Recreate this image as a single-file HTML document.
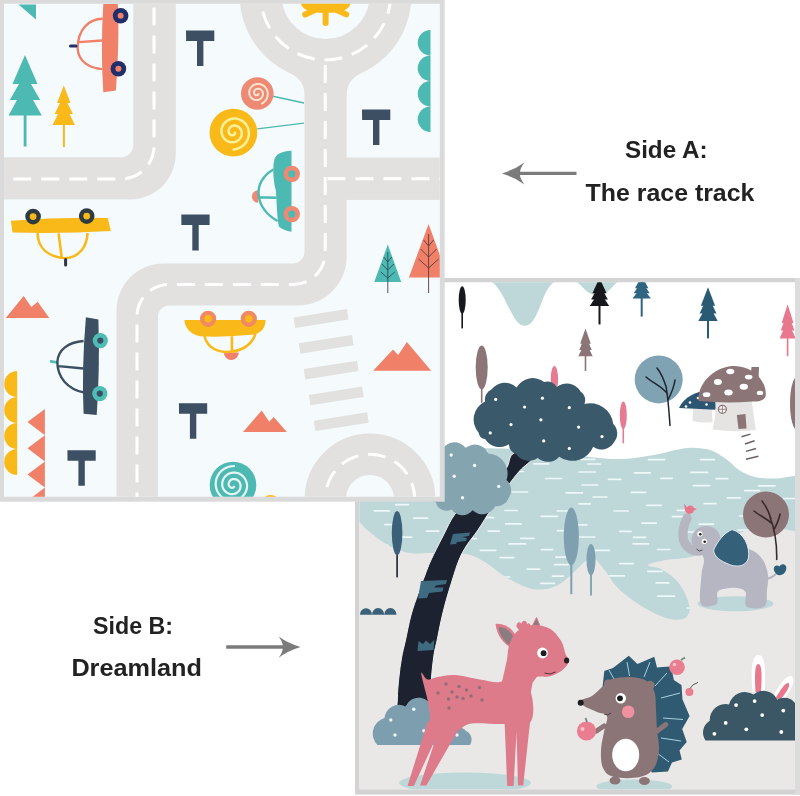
<!DOCTYPE html>
<html><head><meta charset="utf-8"><title>Play mat</title>
<style>html,body{margin:0;padding:0;background:#fff;}svg{display:block;filter:blur(0.35px);}body{font-family:"Liberation Sans",sans-serif;}</style></head>
<body>
<svg width="800" height="796" viewBox="0 0 800 796">
<rect x="0" y="0" width="800" height="796" fill="#ffffff"/>
<g id="matB">
<rect x="355" y="278" width="445" height="516.6" fill="#d3d3d4"/>
<rect x="795" y="278" width="5" height="516.6" fill="#dcdcdc"/>
<clipPath id="clipB"><rect x="359.5" y="282.2" width="435.5" height="507"/></clipPath>
<g clip-path="url(#clipB)">
<rect x="355" y="278" width="445" height="520" fill="#ffffff"/>
<rect x="355" y="500" width="445" height="300" fill="#e9e8e6"/>
<path d="M340.0,436.0 C350.8,429.7 382.5,440.3 400.0,442.0 C417.5,443.7 431.7,445.0 445.0,446.0 C458.3,447.0 468.8,447.5 480.0,448.0 C491.2,448.5 498.7,448.3 512.0,449.0 C525.3,449.7 547.0,450.7 560.0,452.0 C573.0,453.3 579.5,455.8 590.0,457.0 C600.5,458.2 612.3,459.3 623.0,459.0 C633.7,458.7 643.3,456.8 654.0,455.0 C664.7,453.2 677.7,448.8 687.0,448.0 C696.3,447.2 703.5,448.2 710.0,450.0 C716.5,451.8 721.2,455.7 726.0,459.0 C730.8,462.3 734.2,467.0 739.0,470.0 C743.8,473.0 749.0,475.6 755.0,477.0 C761.0,478.4 765.0,478.2 775.0,478.5 C785.0,478.8 808.3,470.2 815.0,478.5 C821.7,486.8 821.7,519.7 815.0,528.0 C808.3,536.3 786.7,528.0 775.0,528.5 C763.3,529.0 754.2,528.2 745.0,531.0 C735.8,533.8 728.7,540.8 720.0,545.0 C711.3,549.2 702.0,554.0 693.0,556.5 C684.0,559.0 673.5,558.6 666.0,560.0 C658.5,561.4 648.8,563.5 648.0,565.0 C647.2,566.5 656.3,566.5 661.0,569.0 C665.7,571.5 671.8,575.6 676.0,580.0 C680.2,584.4 683.8,590.4 686.0,595.5 C688.2,600.6 690.0,606.6 689.5,610.5 C689.0,614.4 686.9,617.8 683.0,619.0 C679.1,620.2 673.1,620.2 666.0,618.0 C658.9,615.8 648.5,610.5 640.5,605.5 C632.5,600.5 623.9,593.8 618.0,588.0 C612.1,582.2 609.0,575.4 605.0,570.5 C601.0,565.6 597.3,560.0 594.0,558.5 C590.7,557.0 588.5,559.1 585.0,561.5 C581.5,563.9 577.6,569.0 573.0,573.0 C568.4,577.0 563.0,582.8 557.5,585.5 C552.0,588.2 545.2,589.2 540.0,589.5 C534.8,589.8 532.0,589.2 526.0,587.0 C520.0,584.8 510.8,580.2 504.0,576.0 C497.2,571.8 491.4,565.7 485.0,562.0 C478.6,558.3 474.7,555.5 465.5,554.0 C456.3,552.5 437.9,553.0 430.0,552.9 C422.1,552.8 422.1,553.6 418.0,553.5 C413.9,553.4 409.6,553.2 405.4,552.2 C401.2,551.2 397.0,549.8 392.8,547.8 C388.6,545.8 384.5,543.2 380.3,540.3 C376.1,537.4 371.2,533.4 367.7,530.3 C364.2,527.2 362.4,525.7 359.5,521.5 C356.6,517.3 354.1,511.9 350.0,505.0 C345.9,498.1 336.7,491.5 335.0,480.0 C333.3,468.5 329.2,442.3 340.0,436.0Z" fill="#bed7d9"/>
<clipPath id="clipLake"><path d="M340.0,436.0 C350.8,429.7 382.5,440.3 400.0,442.0 C417.5,443.7 431.7,445.0 445.0,446.0 C458.3,447.0 468.8,447.5 480.0,448.0 C491.2,448.5 498.7,448.3 512.0,449.0 C525.3,449.7 547.0,450.7 560.0,452.0 C573.0,453.3 579.5,455.8 590.0,457.0 C600.5,458.2 612.3,459.3 623.0,459.0 C633.7,458.7 643.3,456.8 654.0,455.0 C664.7,453.2 677.7,448.8 687.0,448.0 C696.3,447.2 703.5,448.2 710.0,450.0 C716.5,451.8 721.2,455.7 726.0,459.0 C730.8,462.3 734.2,467.0 739.0,470.0 C743.8,473.0 749.0,475.6 755.0,477.0 C761.0,478.4 765.0,478.2 775.0,478.5 C785.0,478.8 808.3,470.2 815.0,478.5 C821.7,486.8 821.7,519.7 815.0,528.0 C808.3,536.3 786.7,528.0 775.0,528.5 C763.3,529.0 754.2,528.2 745.0,531.0 C735.8,533.8 728.7,540.8 720.0,545.0 C711.3,549.2 702.0,554.0 693.0,556.5 C684.0,559.0 673.5,558.6 666.0,560.0 C658.5,561.4 648.8,563.5 648.0,565.0 C647.2,566.5 656.3,566.5 661.0,569.0 C665.7,571.5 671.8,575.6 676.0,580.0 C680.2,584.4 683.8,590.4 686.0,595.5 C688.2,600.6 690.0,606.6 689.5,610.5 C689.0,614.4 686.9,617.8 683.0,619.0 C679.1,620.2 673.1,620.2 666.0,618.0 C658.9,615.8 648.5,610.5 640.5,605.5 C632.5,600.5 623.9,593.8 618.0,588.0 C612.1,582.2 609.0,575.4 605.0,570.5 C601.0,565.6 597.3,560.0 594.0,558.5 C590.7,557.0 588.5,559.1 585.0,561.5 C581.5,563.9 577.6,569.0 573.0,573.0 C568.4,577.0 563.0,582.8 557.5,585.5 C552.0,588.2 545.2,589.2 540.0,589.5 C534.8,589.8 532.0,589.2 526.0,587.0 C520.0,584.8 510.8,580.2 504.0,576.0 C497.2,571.8 491.4,565.7 485.0,562.0 C478.6,558.3 474.7,555.5 465.5,554.0 C456.3,552.5 437.9,553.0 430.0,552.9 C422.1,552.8 422.1,553.6 418.0,553.5 C413.9,553.4 409.6,553.2 405.4,552.2 C401.2,551.2 397.0,549.8 392.8,547.8 C388.6,545.8 384.5,543.2 380.3,540.3 C376.1,537.4 371.2,533.4 367.7,530.3 C364.2,527.2 362.4,525.7 359.5,521.5 C356.6,517.3 354.1,511.9 350.0,505.0 C345.9,498.1 336.7,491.5 335.0,480.0 C333.3,468.5 329.2,442.3 340.0,436.0Z"/></clipPath>
<g clip-path="url(#clipLake)" stroke="#eef8f9" stroke-width="1.7" stroke-linecap="round">
<path d="M349.5,453.0h13.8M410.7,451.2h14.1M474.0,451.0h12.8M592.1,453.2h16.8M655.9,451.2h11.1M717.4,451.3h12.5M769.9,451.9h16.1M387.0,458.5h12.7M524.1,458.2h12.4M581.3,459.3h13.4M648.5,459.7h16.1M700.5,459.6h13.8M770.2,457.6h14.8M357.9,465.8h15.5M412.0,463.7h11.4M478.3,464.8h13.7M533.8,463.8h14.9M587.9,464.0h12.6M770.6,465.5h14.9M396.1,472.5h13.0M453.5,470.9h14.5M509.8,471.5h13.7M579.1,472.0h16.2M634.4,472.8h15.9M690.9,472.4h16.6M373.2,477.3h16.8M429.5,477.8h15.9M492.2,477.6h15.3M545.5,478.5h16.1M608.5,479.4h12.2M660.8,478.3h11.4M716.0,478.6h11.8M412.9,484.2h11.2M582.2,485.0h15.4M693.3,485.6h16.4M758.6,485.8h16.5M449.5,492.6h14.4M512.8,492.0h14.7M566.2,492.9h16.3M631.3,492.3h14.5M744.8,490.6h14.6M363.0,498.0h16.5M419.6,497.2h15.1M475.2,498.7h15.0M593.1,497.0h13.6M727.4,497.9h12.9M781.9,498.5h16.1M395.8,504.7h12.7M451.6,505.1h14.0M579.0,503.8h11.2M646.7,505.3h14.4M704.2,503.7h11.8M764.4,505.6h12.4M374.3,510.8h14.9M505.1,510.5h12.1M557.3,511.0h12.1M614.2,511.0h14.1M677.3,510.3h15.8M745.6,511.6h15.3M800.0,510.8h16.5M413.8,518.1h13.8M477.5,517.6h15.9M541.1,516.3h16.4M672.4,516.6h16.5M739.8,516.0h13.6M384.9,524.6h11.4M451.3,523.5h15.7M505.8,523.9h15.3M572.9,524.9h14.0M642.0,523.2h14.2M699.2,524.2h14.1M766.4,523.4h13.3M426.5,531.1h12.2M488.2,531.1h11.2M557.6,530.7h15.8M619.7,531.4h11.4M681.4,532.0h16.5M738.3,530.0h13.6M396.8,537.2h14.7M465.4,538.6h11.1M520.9,538.4h12.9M579.3,537.0h15.4M633.5,537.3h12.2M695.1,537.6h13.5M756.6,537.2h14.8M375.5,545.2h12.4M509.1,543.9h16.5M633.0,543.8h15.4M689.7,545.2h13.5M755.9,544.2h15.1M480.3,550.3h15.5M541.3,549.6h11.4M595.2,550.4h14.1M657.5,549.5h12.2M793.3,549.3h16.7M382.3,557.2h13.6M445.1,557.6h16.1M500.3,557.7h13.4M555.9,557.2h11.1M752.0,557.4h14.0M422.0,564.8h13.4M554.6,564.7h13.4M619.6,563.6h13.8M671.8,564.3h14.7M792.0,564.4h14.4M401.0,570.7h15.6M470.6,570.5h15.4M527.3,569.2h12.2M586.0,569.6h16.4M647.9,571.4h14.4M717.8,571.0h11.5M780.6,569.1h16.6M367.7,576.9h11.4M436.7,576.7h14.6M495.3,577.0h14.4M552.4,576.1h11.1M608.8,575.8h15.5M733.3,577.8h16.7M412.7,583.0h16.6M477.7,584.1h15.9M540.6,583.3h13.7M596.3,583.0h11.7M656.2,582.9h12.6M718.7,583.6h14.2M445.3,588.6h12.6M509.6,589.2h14.8M575.1,588.3h16.9M696.3,588.4h13.6M759.6,589.0h11.4M358.5,595.3h13.9M414.3,596.2h16.0M467.6,596.4h14.7M533.5,595.4h12.5M600.1,596.0h16.9M657.9,596.2h16.5M717.6,594.7h16.3M771.0,595.8h13.9M397.8,601.0h15.0M451.2,602.2h15.2M508.3,601.4h15.4M566.9,602.2h14.4M703.9,602.4h12.8M761.6,602.7h16.4M368.7,607.6h13.3M424.2,608.6h14.2M491.2,607.1h15.6M559.1,606.7h14.1M620.9,609.0h14.9M687.3,608.0h15.7M740.9,608.4h16.4M794.4,607.0h15.5M404.2,613.9h15.6M463.3,615.0h15.0M524.2,614.4h15.2M592.7,614.7h15.0M796.3,613.9h15.3M381.2,620.7h16.9M440.0,619.4h13.5M550.3,619.2h14.9M616.3,619.1h13.8M731.4,619.4h12.3M787.7,620.4h12.3"/>
</g>
<path d="M487,280 C497,282 503,296 510,310 C516,322 520,325.8 525,325.8 C530,325.8 534,321 539,309 C545,294 548,283 559,280 Z" fill="#bed7d9"/>
<path d="M574,280 C582,284 586,295 597,295 C610,295 612,284 621,280 Z" fill="#bed7d9"/>
<ellipse cx="735.5" cy="603.7" rx="38" ry="7.5" fill="#bed7d9"/>
<rect x="461.4" y="311.7" width="1.6" height="16.7" fill="#17181d"/><ellipse cx="462.2" cy="300.0" rx="3.5" ry="13.7" fill="#17181d"/>
<rect x="480.9" y="387.3" width="1.6" height="15.5" fill="#8b7577"/><ellipse cx="481.7" cy="367.4" rx="6.0" ry="21.9" fill="#8b7577"/>
<ellipse cx="554.4" cy="379.0" rx="3.7" ry="13.0" fill="#e57c93"/>
<rect x="622.5" y="427.0" width="1.6" height="16.3" fill="#e57c93"/><ellipse cx="623.3" cy="415.2" rx="3.5" ry="13.8" fill="#e57c93"/>
<path d="M599.5,278.0 L606.6,293.3 L592.4,293.3 Z" fill="#17181d"/>
<path d="M599.5,284.5 L607.9,299.6 L591.1,299.6 Z" fill="#17181d"/>
<path d="M599.5,291.0 L609.2,305.9 L589.8,305.9 Z" fill="#17181d"/>
<rect x="598.5" y="304.9" width="2.0" height="19.5" fill="#17181d"/>
<path d="M641.7,276.0 L648.4,288.2 L635.0,288.2 Z" fill="#2f6580"/>
<path d="M641.7,281.2 L649.7,293.3 L633.7,293.3 Z" fill="#2f6580"/>
<path d="M641.7,286.5 L650.9,298.4 L632.5,298.4 Z" fill="#2f6580"/>
<rect x="640.7" y="297.4" width="2.0" height="19.2" fill="#2f6580"/>
<path d="M708.0,287.3 L715.1,305.8 L700.9,305.8 Z" fill="#2a5a74"/>
<path d="M708.0,295.2 L716.4,313.4 L699.6,313.4 Z" fill="#2a5a74"/>
<path d="M708.0,303.1 L717.7,321.1 L698.3,321.1 Z" fill="#2a5a74"/>
<rect x="707.0" y="320.1" width="2.0" height="18.3" fill="#2a5a74"/>
<path d="M787.6,304.2 L793.5,322.9 L781.7,322.9 Z" fill="#e8788e"/>
<path d="M787.6,312.2 L794.5,330.6 L780.7,330.6 Z" fill="#e8788e"/>
<path d="M787.6,320.2 L795.6,338.4 L779.6,338.4 Z" fill="#e8788e"/>
<rect x="786.8" y="337.4" width="1.6" height="18.8" fill="#e8788e"/>
<path d="M585.5,328.6 L590.8,343.7 L580.2,343.7 Z" fill="#8b7577"/>
<path d="M585.5,335.0 L591.7,349.9 L579.3,349.9 Z" fill="#8b7577"/>
<path d="M585.5,341.5 L592.7,356.2 L578.3,356.2 Z" fill="#8b7577"/>
<rect x="584.7" y="355.2" width="1.6" height="15.7" fill="#8b7577"/>
<ellipse cx="797" cy="403.5" rx="7" ry="26.5" fill="#8b7577"/>
<circle cx="658.7" cy="379.4" r="24" fill="#7fa3b3"/>
<path d="M670,425.5 C669,410 668,398 666,386 M667.5,394 C662,386 654,384 646,377 M666.5,388 C664,380 662,374 657,368 M668,400 C672,392 674,388 675,380" fill="none" stroke="#1f2430" stroke-width="1.5" stroke-linecap="round"/>
<path d="M693,409 H712 L712.5,422 Q702,423.5 692.5,421 Z" fill="#e4e4e4"/>
<path d="M679,408 C684,397 696,391 708,391 C714,392 716,400 715.6,409.8 Z" fill="#2b5570"/>
<circle cx="690.0" cy="402.5" r="1.3" fill="#ffffff"/><circle cx="698.0" cy="398.0" r="1.3" fill="#ffffff"/><circle cx="706.5" cy="404.5" r="1.3" fill="#ffffff"/><circle cx="686.0" cy="406.5" r="1.3" fill="#ffffff"/>
<path d="M716,400 L752,400 C753,412 755,424 756,430 Q735,432.5 712.5,429.5 C715,420 716,410 716,400 Z" fill="#e6e4e2"/>
<path d="M750.5,378 L751.5,367 L759,367 L758.5,382 Z" fill="#8b7577"/>
<path d="M698.8,401 C697,385 712,368 732,366 C752,365 766,380 765.8,394 C766,400 760,402 752,401.5 Q725,403.5 698.8,401 Z" fill="#8b7577"/>
<ellipse cx="730.3" cy="371.5" rx="4.0" ry="2.7" fill="#ffffff"/>
<ellipse cx="717.9" cy="382.1" rx="4.0" ry="3.0" fill="#ffffff"/>
<ellipse cx="748.7" cy="377.1" rx="3.8" ry="2.4" fill="#ffffff"/>
<ellipse cx="743.8" cy="386.8" rx="4.2" ry="3.0" fill="#ffffff"/>
<ellipse cx="728.5" cy="392.4" rx="4.2" ry="3.0" fill="#ffffff"/>
<ellipse cx="706.6" cy="394.7" rx="3.8" ry="2.4" fill="#ffffff"/>
<ellipse cx="760.0" cy="392.9" rx="3.2" ry="2.2" fill="#ffffff"/>
<circle cx="722.4" cy="409.3" r="4" fill="#f4f2f0" stroke="#8b7577" stroke-width="1.2"/><path d="M718.4,409.3h8M722.4,405.3v8" stroke="#8b7577" stroke-width="0.8"/>
<path d="M736.8,415 L745.5,414 L746.5,428.5 L738.5,429 Z" fill="#8b7577"/>
<path d="M741.5,436.8 L750.5,434.1 M744.9,444 L754.6,440.8 M746,451.4 L756.1,448.5 M746,459.3 L758.4,456.3" stroke="#6e6062" stroke-width="1.5" fill="none"/>
<path d="M512.6,454.0 C508.5,457.3 509.9,463.3 506.5,468.0 C503.1,472.7 497.6,477.2 492.0,482.0 C486.4,486.8 479.2,491.7 473.0,497.0 C466.8,502.3 460.0,507.5 455.0,514.0 C450.0,520.5 447.0,528.3 443.0,536.0 C439.0,543.7 434.0,553.5 431.0,560.0 C428.0,566.5 427.1,569.5 425.0,575.0 C422.9,580.5 420.6,586.3 418.3,593.0 C416.0,599.7 413.1,607.2 411.0,615.0 C408.9,622.8 407.1,632.8 405.5,640.0 C403.9,647.2 402.6,651.7 401.5,658.0 C400.4,664.3 399.5,671.0 398.8,678.0 C398.1,685.0 397.5,690.7 397.3,700.0 C397.1,709.3 392.1,728.3 397.6,734.0 C403.1,739.7 424.9,739.7 430.5,734.0 C436.1,728.3 430.8,709.3 431.0,700.0 C431.2,690.7 431.0,685.5 431.5,678.0 C432.0,670.5 433.1,661.3 434.0,655.0 C434.9,648.7 436.0,645.8 437.2,640.0 C438.4,634.2 439.7,626.9 441.2,620.3 C442.7,613.7 444.3,606.9 446.2,600.2 C448.1,593.5 450.2,586.8 452.3,580.1 C454.4,573.4 456.6,565.9 459.0,560.0 C461.4,554.1 463.8,550.0 467.0,545.0 C470.2,540.0 473.8,536.2 478.0,530.0 C482.2,523.8 487.2,515.2 492.0,508.0 C496.8,500.8 502.3,493.2 507.0,487.0 C511.7,480.8 515.7,475.3 520.0,470.5 C524.3,465.7 531.2,461.8 533.0,458.0 C534.8,454.2 534.4,448.7 531.0,448.0 C527.6,447.3 516.7,450.7 512.6,454.0Z" fill="#1c2230" stroke="#f3f3f2" stroke-width="1"/>
<path d="M453,534 L470,532.5 L469,536 L462,537 L467,538 L466,541 L457,542 L456,544 L450,544.5 Z M421,581 L447,580 L446,584 L436,585.5 L434,587.5 L443.5,587.5 L442.5,591.5 L429,593 L427,598 L418,598.5 Z M418.5,641 L423,644 L426,640.5 L430,644 L434.3,640 L433.5,650 L417.5,651 Z" fill="#3f6b80"/>
<rect x="396.2" y="553.3" width="1.8" height="24.1" fill="#2d3a48"/><ellipse cx="397.1" cy="533.1" rx="5.3" ry="22.1" fill="#3a6178"/>
<rect x="570.3" y="563.3" width="2.0" height="30.9" fill="#7fa0b0"/><ellipse cx="571.3" cy="536.4" rx="7.5" ry="28.9" fill="#7fa0b0"/>
<rect x="590.1" y="573.4" width="1.8" height="22.1" fill="#7fa0b0"/><ellipse cx="591.0" cy="559.7" rx="4.5" ry="15.7" fill="#7fa0b0"/>
<path d="M360,614.7 A6,6.5 0 0 1 372,614.7 A6,6.5 0 0 1 384.2,614.7 A6,6.5 0 0 1 396.5,614.7 Z" fill="#3a6178"/>
<path d="M442.9,448.4 A14.0,14.0 0 0 1 465.6,447.9 A14.4,14.4 0 0 1 488.2,453.5 A20.0,20.0 0 0 1 506.5,480.1 A13.3,13.3 0 0 1 508.8,497.7 A12.8,12.8 0 0 1 495.2,506.2 A14.2,14.2 0 0 1 472.6,510.3 A12.9,12.9 0 0 1 451.7,509.5 A10.8,10.8 0 0 1 435.9,502.2 L425.0,500.0 L425.0,450.0 L442.9,448.4Z" fill="#84a4b0"/>
<circle cx="451.2" cy="455.0" r="1.7" fill="#eef6f8"/><circle cx="474.6" cy="465.5" r="1.7" fill="#eef6f8"/><circle cx="454.2" cy="476.3" r="1.7" fill="#eef6f8"/><circle cx="498.7" cy="486.4" r="1.7" fill="#eef6f8"/><circle cx="462.5" cy="497.7" r="1.7" fill="#eef6f8"/>
<path d="M478.8,432.9 A19.9,19.9 0 0 1 485.1,401.5 A10.7,10.7 0 0 1 491.4,389.6 A16.6,16.6 0 0 1 516.5,387.6 A18.6,18.6 0 0 1 544.2,382.1 A10.1,10.1 0 0 1 556.7,387.1 A16.0,16.0 0 0 1 580.6,391.4 A10.5,10.5 0 0 1 584.4,404.0 A23.2,23.2 0 0 1 613.3,424.1 A13.2,13.2 0 0 1 613.8,442.4 A13.9,13.9 0 0 1 593.2,446.7 A22.6,22.6 0 0 1 559.2,456.7 A15.0,15.0 0 0 1 537.9,458.0 A15.2,15.2 0 0 1 516.5,454.2 A10.1,10.1 0 0 1 509.0,444.2 A17.1,17.1 0 0 1 485.1,439.1 A7.1,7.1 0 0 1 478.8,432.9Z" fill="#3a596b"/>
<circle cx="495.7" cy="399.4" r="1.6" fill="#ffffff"/><circle cx="524.6" cy="407.0" r="1.6" fill="#ffffff"/><circle cx="542.4" cy="398.2" r="1.6" fill="#ffffff"/><circle cx="569.3" cy="407.7" r="1.6" fill="#ffffff"/><circle cx="511.0" cy="424.6" r="1.6" fill="#ffffff"/><circle cx="540.9" cy="419.8" r="1.6" fill="#ffffff"/><circle cx="578.6" cy="427.1" r="1.6" fill="#ffffff"/><circle cx="490.2" cy="432.9" r="1.6" fill="#ffffff"/><circle cx="543.7" cy="440.9" r="1.6" fill="#ffffff"/><circle cx="602.0" cy="436.6" r="1.6" fill="#ffffff"/><circle cx="569.3" cy="448.4" r="1.6" fill="#ffffff"/>
<circle cx="766" cy="514.6" r="23" fill="#8b7577"/>
<path d="M776.7,559.4 C777,545 775,530 770,517 M772.5,524 C766,518 760,516 754,511 M771,519 C769,512 766,506 762,501 M773.8,530 C777,524 779,520 780,514" fill="none" stroke="#3a2a2c" stroke-width="1.6" stroke-linecap="round"/>
<path d="M766,579 Q772,578 777,573" stroke="#b6b6c2" stroke-width="2" fill="none"/>
<path d="M776.5,574 C771,569 775,563 779.5,566.5 C782,562 788,565 786,570 C785,574 780,577 776.5,574 Z" fill="#2f5f78"/>
<path d="M687.2,518 C684,524 682,532 683.5,540 C686,548 693,552 700,551" fill="none" stroke="#b6b6c2" stroke-width="9.2" stroke-linecap="round"/>
<path d="M700.5,548.0 C697.5,549.5 703.8,555.5 704.0,560.0 C704.2,564.5 702.0,567.7 701.5,575.0 C701.0,582.3 698.5,599.2 701.0,604.0 C703.5,608.8 713.8,606.0 716.5,604.0 C719.2,602.0 715.9,594.6 717.5,592.0 C719.1,589.4 722.8,589.2 726.0,588.5 C729.2,587.8 733.8,587.4 737.0,588.0 C740.2,588.6 743.9,588.9 745.5,592.0 C747.1,595.1 743.3,604.1 746.5,606.5 C749.7,608.9 761.1,609.2 764.5,606.5 C767.9,603.8 766.4,595.2 767.0,590.0 C767.6,584.8 768.7,580.0 768.0,575.0 C767.3,570.0 765.6,564.1 763.0,560.0 C760.4,555.9 756.8,552.4 752.6,550.4 C748.4,548.4 743.1,547.9 738.0,548.0 C732.9,548.1 728.2,551.0 722.0,551.0 C715.8,551.0 703.5,546.5 700.5,548.0Z" fill="#b6b6c2"/>
<ellipse cx="706" cy="540" rx="14.5" ry="14" fill="#b6b6c2"/>
<path d="M732,529.5 C744,533 750,546 748.5,558 C746,567 736,568 727,563.5 C718,560 712.5,554 714,549 C718,541 724,533 732,529.5 Z" fill="#35607a" stroke="#dfe8ee" stroke-width="1"/>
<circle cx="699.9" cy="533.9" r="2.6" fill="#fff"/><circle cx="700.3" cy="534.2" r="1.3" fill="#222"/>
<circle cx="704.3" cy="541.4" r="2.6" fill="#fff"/><circle cx="704.7" cy="541.7" r="1.3" fill="#222"/>
<path d="M696.5,549 Q699,552.5 702.5,550" stroke="#444" stroke-width="0.9" fill="none"/>
<path d="M683.8,503.5 L687.3,507.6 C688,505 692.2,504.6 693.6,507.8 L696.8,509 L693.9,510.6 C693.2,514.2 687.6,515.3 685.5,511.6 C684.4,509.5 685,506.5 683.8,503.5 Z" fill="#e8758a"/>
<ellipse cx="465" cy="783" rx="66" ry="10.5" fill="#bed7d9"/>
<path d="M377.5,745.0 A16.2,16.2 0 0 1 384.5,718.0 A14.4,14.4 0 0 1 405.5,706.5 A14.0,14.0 0 0 1 432.5,711.0 A25.1,25.1 0 0 1 452.0,731.0 A8.7,8.7 0 0 1 466.0,731.0 A9.6,9.6 0 0 1 470.0,745.0 L377.5,745.0Z" fill="#7d9eae"/>
<circle cx="413.8" cy="709.3" r="1.7" fill="#eef6f8"/><circle cx="390.8" cy="720.0" r="1.7" fill="#eef6f8"/><circle cx="423.8" cy="730.8" r="1.7" fill="#eef6f8"/><circle cx="395.0" cy="735.0" r="1.7" fill="#eef6f8"/><circle cx="457.0" cy="735.0" r="1.7" fill="#eef6f8"/>
<path d="M427.5,722 L407.5,786 L413.8,786 L436,738 L420,785.5 L426.3,785.5 L457,732 Z" fill="#dd7b8b"/>
<path d="M504.5,720 L507.2,786 L513.6,786 L516.5,732 L518,785.5 L523.2,785.5 L530.5,718 Z" fill="#dd7b8b"/>
<path d="M421.3,672.5 C421.9,671.6 424.8,678.8 427.5,679.5 C430.2,680.2 432.9,677.8 437.5,677.0 C442.1,676.2 447.9,674.6 455.0,675.0 C462.1,675.4 472.5,678.3 480.0,679.5 C487.5,680.7 495.0,683.2 500.0,682.0 C505.0,680.8 505.0,671.2 510.0,672.5 C515.0,673.8 526.6,681.8 530.0,690.0 C533.4,698.2 535.1,716.3 530.5,722.0 C525.9,727.7 512.6,723.7 502.5,724.0 C492.4,724.3 477.9,722.3 470.0,723.8 C462.1,725.3 460.7,730.6 455.0,733.0 C449.3,735.4 440.5,739.2 436.0,738.0 C431.5,736.8 429.0,729.4 428.0,726.0 C427.0,722.6 430.1,721.8 430.0,717.5 C429.9,713.2 428.5,705.4 427.5,700.0 C426.5,694.6 424.8,689.6 423.8,685.0 C422.8,680.4 420.7,673.4 421.3,672.5Z" fill="#dd7b8b"/>
<path d="M508,655 L541,671 L532.5,683 L529.5,700 L530,722 L498,700 Z" fill="#dd7b8b"/>
<path d="M495.5,624 C507,622.5 518,632 520.5,650.5 C508,649.5 497.5,639 495.5,624 Z" fill="#dd7b8b"/>
<path d="M498.3,627.2 C506.5,626.5 515,634 517.5,648 C508,646.5 500.3,638 498.3,627.2 Z" fill="#8b7d7f"/>
<path d="M531,628.5 L536.5,617.5 L541.5,629.5 Z" fill="#8b7d7f" stroke="#dd7b8b" stroke-width="1"/>
<path d="M516.5,627 C516,622 520,621 521.5,624 C522,619.5 527,620 527,624 C529,622 531,624 530,628 L520,631 Z" fill="#dd7b8b"/>
<path d="M510.0,672.5 C507.1,669.1 507.5,662.5 507.5,657.5 C507.5,652.5 508.3,646.9 510.0,642.5 C511.7,638.1 513.8,633.9 517.5,631.0 C521.2,628.1 527.1,625.4 532.5,625.0 C537.9,624.6 545.2,626.1 550.0,628.8 C554.8,631.5 558.7,637.1 561.3,641.3 C563.9,645.5 564.2,650.7 565.5,654.0 C566.8,657.3 569.3,658.6 568.8,661.3 C568.3,664.0 565.6,667.5 562.5,670.0 C559.4,672.5 553.8,675.2 550.0,676.3 C546.2,677.4 544.2,676.2 540.0,676.5 C535.8,676.8 530.0,678.7 525.0,678.0 C520.0,677.3 512.9,675.9 510.0,672.5Z" fill="#dd7b8b"/>
<circle cx="542.5" cy="653" r="5.4" fill="#fff"/><circle cx="543.6" cy="653.2" r="2.9" fill="#1d1d1f"/>
<ellipse cx="566.6" cy="660.6" rx="2.6" ry="3" fill="#2a1f22"/>
<path d="M544.5,673 Q550,675.5 555.5,672" stroke="#5a2f38" stroke-width="1" fill="none"/>
<circle cx="438.0" cy="693.0" r="1.7" fill="#8f6f78"/><circle cx="446.0" cy="684.0" r="1.7" fill="#8f6f78"/><circle cx="452.0" cy="692.0" r="1.7" fill="#8f6f78"/><circle cx="459.0" cy="686.5" r="1.7" fill="#8f6f78"/><circle cx="448.5" cy="699.0" r="1.7" fill="#8f6f78"/><circle cx="457.0" cy="697.0" r="1.7" fill="#8f6f78"/><circle cx="466.5" cy="690.0" r="1.7" fill="#8f6f78"/><circle cx="463.0" cy="698.5" r="1.7" fill="#8f6f78"/><circle cx="471.0" cy="696.0" r="1.7" fill="#8f6f78"/><circle cx="479.5" cy="687.5" r="1.7" fill="#8f6f78"/><circle cx="449.0" cy="708.0" r="1.7" fill="#8f6f78"/><circle cx="482.0" cy="700.0" r="1.7" fill="#8f6f78"/>
<ellipse cx="634.3" cy="786.5" rx="38" ry="7" fill="#bed7d9"/>
<path d="M602,692 L604.3,671.0 Q610.0,669.0 613.0,668.0 Q617.7,664.3 628.8,655.7 Q634.5,661.1 637.5,664.0 Q642.5,661.8 654.3,656.7 Q656.1,663.7 657.0,667.5 Q661.2,667.2 671.0,666.5 Q672.9,675.3 673.9,680.0 Q676.2,681.5 681.5,685.1 Q682.1,694.5 682.5,699.5 Q684.6,704.4 689.6,716.0 Q684.8,724.5 682.2,729.0 Q683.6,732.9 686.7,742.0 Q682.0,747.5 679.5,750.5 Q680.2,753.2 681.8,759.6 Q675.4,761.5 672.0,762.5 Q670.8,765.2 668.0,771.4 L652,772.5 L630,740 Z" fill="#2f5a72"/>
<path d="M614,679 L609,670 M629.5,676 L627,662 M644,677 L650,662 M655,686 L667,673 M661,698 L680,693 M663,718 L683,719.5 M661,738 L681,741 M657,753 L669,762" stroke="#a8d0e0" stroke-width="1" fill="none"/>
<circle cx="677" cy="667.3" r="7.8" fill="#ea7d8f"/><circle cx="674.5" cy="664.5" r="1.8" fill="#f7c3cc"/><path d="M681,660 l4,-2.5" stroke="#5f8f7a" stroke-width="1.6"/>
<circle cx="689.4" cy="692" r="4" fill="#ea7d8f"/><path d="M690,688.5 Q692,684 698,682.5" stroke="#4a4a4a" stroke-width="0.9" fill="none"/>
<circle cx="608.4" cy="684.1" r="4.6" fill="#8b7577"/><circle cx="650" cy="685.3" r="4.6" fill="#8b7577"/>
<path d="M580.5,700.5 C581.8,698.8 588.2,698.4 592.0,696.0 C595.8,693.6 599.7,688.8 603.0,686.0 C606.3,683.2 607.5,680.5 612.0,679.0 C616.5,677.5 624.3,676.8 630.0,677.0 C635.7,677.2 641.9,678.0 646.0,680.5 C650.1,683.0 652.8,687.1 654.5,692.0 C656.2,696.9 655.6,703.7 656.0,710.0 C656.4,716.3 656.5,723.3 657.0,730.0 C657.5,736.7 659.5,743.7 659.0,750.0 C658.5,756.3 657.2,763.5 654.0,768.0 C650.8,772.5 646.7,775.5 640.0,777.0 C633.3,778.5 620.2,778.5 614.0,777.0 C607.8,775.5 605.2,772.5 603.0,768.0 C600.8,763.5 600.8,756.0 601.0,750.0 C601.2,744.0 603.0,737.7 604.0,732.0 C605.0,726.3 608.2,719.3 607.0,716.0 C605.8,712.7 600.8,713.7 597.0,712.0 C593.2,710.3 586.8,707.9 584.0,706.0 C581.2,704.1 579.2,702.2 580.5,700.5Z" fill="#8b7577"/>
<path d="M604,726 L596.5,731 M654.5,733 L665.8,724.6" stroke="#8b7577" stroke-width="5" stroke-linecap="round"/>
<ellipse cx="615" cy="780.5" rx="5.5" ry="4" fill="#8b7577"/><ellipse cx="644.4" cy="781" rx="5.5" ry="4" fill="#8b7577"/>
<ellipse cx="625.7" cy="755" rx="13.5" ry="16.2" fill="#ffffff"/>
<circle cx="620.8" cy="698.3" r="5.2" fill="#fff"/><circle cx="620" cy="698.3" r="2.9" fill="#1d1d1f"/>
<circle cx="628.2" cy="711.8" r="6.3" fill="#f0919f"/>
<circle cx="580.7" cy="702.8" r="3" fill="#1d1d1f"/>
<path d="M604,714 Q607.5,716.5 611,713" stroke="#4a3a3c" stroke-width="0.9" fill="none"/>
<circle cx="586.5" cy="731" r="9.6" fill="#ea7d8f"/><circle cx="582.5" cy="729" r="2" fill="#f7c3cc"/><path d="M587,722 l-1.5,-4" stroke="#5f8f7a" stroke-width="1.8"/>
<path d="M758.4,655 C765,655 766,668 764.5,692 L752.5,692 C750.5,668 752,655 758.4,655 Z" fill="#ffffff"/>
<path d="M758.3,664 C762,664 762,675 761,692 L755.5,692 C754.5,675 754.8,664 758.3,664 Z" fill="#e8788e"/>
<path d="M791.6,676.5 C797,680 790,692 781,703 L772,698 C780,684 787,674 791.6,676.5 Z" fill="#ffffff"/>
<path d="M788.5,683 C791,686 786,693 780,700 L775.5,698 C781,689 785.5,682 788.5,683 Z" fill="#e8788e"/>
<path d="M705.5,740.5 A13.8,13.8 0 0 1 709.8,720.7 A15.6,15.6 0 0 1 729.0,704.5 A16.4,16.4 0 0 1 753.6,694.6 A15.0,15.0 0 0 1 777.2,699.6 A13.6,13.6 0 0 1 796.0,704.5 L800.0,740.5 L705.5,740.5Z" fill="#3b5766"/>
<circle cx="736.1" cy="705.1" r="1.9" fill="#ffffff"/><circle cx="754.6" cy="701.1" r="1.9" fill="#ffffff"/><circle cx="783.3" cy="710.6" r="1.9" fill="#ffffff"/><circle cx="762.2" cy="715.1" r="1.9" fill="#ffffff"/><circle cx="725.7" cy="722.9" r="1.9" fill="#ffffff"/><circle cx="746.3" cy="729.3" r="1.9" fill="#ffffff"/><circle cx="781.3" cy="732.0" r="1.9" fill="#ffffff"/><circle cx="714.4" cy="733.8" r="1.9" fill="#ffffff"/>
</g></g>
<g id="matA">
<rect x="0" y="0" width="444.7" height="501.7" fill="#dadadb"/>
<clipPath id="clipA"><rect x="4" y="3.8" width="435.8" height="493"/></clipPath>
<g clip-path="url(#clipA)">
<rect x="0" y="0" width="445" height="502" fill="#f5fafd"/>
<path d="M175.8,-2 V153.6 A46,46 0 0 1 129.8,199.6 H-2 V157.3 H120.8 A12.5,12.5 0 0 0 133.3,144.8 V-2 Z" fill="#e2e1df"/>
<path d="M304.5,40 V251.5 A12,12 0 0 1 292.5,263.5 H163.5 A47,47 0 0 0 116.5,310.5 V502 H158 V317 A11.5,11.5 0 0 1 169.5,305.5 H297.7 A49,49 0 0 0 346.7,256.5 V40 Z" fill="#e2e1df"/>
<rect x="340" y="157.5" width="110" height="42.4" fill="#e2e1df"/>
<g fill="none" stroke="#e2e1df" stroke-width="42">
<circle cx="325.6" cy="-5" r="65"/>
<circle cx="370" cy="499" r="44.7" stroke-width="41.4"/>
</g>
<path d="M288.5,72.6 Q304.8,79 304.8,97 L306,97 L306,70 Z M362.7,72.6 Q346.4,79 346.4,97 L345,97 L345,70 Z" fill="#e2e1df"/>
<path d="M293.6,317.5 l53.3,-8.4 l1.6,10.4 l-53.3,8.4 Z" fill="#e2e1df"/>
<path d="M298.7,343.3 l53.3,-8.4 l1.6,10.4 l-53.3,8.4 Z" fill="#e2e1df"/>
<path d="M303.7,369.1 l53.3,-8.4 l1.6,10.4 l-53.3,8.4 Z" fill="#e2e1df"/>
<path d="M308.8,394.9 l53.3,-8.4 l1.6,10.4 l-53.3,8.4 Z" fill="#e2e1df"/>
<path d="M313.8,420.7 l53.3,-8.4 l1.6,10.4 l-53.3,8.4 Z" fill="#e2e1df"/>
<g fill="none" stroke="#ffffff" stroke-width="3" stroke-dasharray="18 10">
<path d="M154,-2 V146 A33,33 0 0 1 121,179 H-2" stroke-dashoffset="-9.5"/>
<path d="M325.2,62 V252 A32,32 0 0 1 293.5,284.5 H169 A32,32 0 0 0 137,316.5 V502" stroke-dashoffset="-3"/>
<path d="M325.5,178.7 H446" stroke-dashoffset="-2"/>
<circle cx="325.6" cy="-5" r="65" stroke-dashoffset="-1"/>
<path d="M325.3,499 A44.7,44.7 0 0 1 414.7,499" stroke-dashoffset="-12"/>
</g>
<path d="M186.0,30.4 h28.3 v10.6 h-10.9 v24.9 h-6.4 v-24.9 h-10.9 Z" fill="#3c4f63"/>
<path d="M362.0,109.4 h28.3 v10.6 h-10.9 v24.9 h-6.4 v-24.9 h-10.9 Z" fill="#3c4f63"/>
<path d="M181.3,214.5 h28.3 v10.6 h-10.9 v25.4 h-6.4 v-25.4 h-10.9 Z" fill="#3c4f63"/>
<path d="M178.9,403.2 h28.3 v10.6 h-10.9 v24.9 h-6.4 v-24.9 h-10.9 Z" fill="#3c4f63"/>
<path d="M67.4,450.2 h28.3 v10.6 h-10.9 v24.9 h-6.4 v-24.9 h-10.9 Z" fill="#3c4f63"/>
<path d="M25.0,55.0 L37.5,84.0 L31.0,84.0 L40.2,100.0 L33.0,100.0 L41.8,115.5 L8.6,115.5 L17.0,100.0 L9.8,100.0 L19.0,84.0 L12.5,84.0Z" fill="#4cbab2"/>
<rect x="23.7" y="115" width="2.8" height="31.5" fill="#4cbab2"/>
<path d="M63.8,85.4 L70.5,103.0 L67.5,103.0 L73.0,114.0 L69.5,114.0 L75.0,125.0 L52.6,125.0 L58.0,114.0 L54.6,114.0 L60.0,103.0 L57.1,103.0Z" fill="#f9b918"/>
<rect x="62.9" y="124" width="2" height="23" fill="#f9b918"/>
<path d="M18.5,4.5 L36,4.5 L36,19.6 Z" fill="#4cbab2"/>
<path d="M387.8,244.5 L401.2,282 L374.3,282 Z" fill="#4cbab2"/>
<g stroke="#2f4a5a" stroke-width="0.9" fill="none"><path d="M387.8,252 V293 M387.8,262 l-4,-5 M387.8,262 l4,-5 M387.8,270 l-6,-6 M387.8,270 l6,-6 M387.8,278 l-7,-6 M387.8,278 l7,-6"/></g>
<path d="M428.6,224 L448,277.4 L408.9,277.4 Z" fill="#f08068"/>
<g stroke="#5a3a3a" stroke-width="0.9" fill="none"><path d="M428.6,234 V293 M428.6,246 l-5,-6 M428.6,246 l5,-6 M428.6,257 l-8,-8 M428.6,257 l8,-8 M428.6,268 l-10,-9 M428.6,268 l10,-9"/></g>
<path d="M5.7,318 L23.6,296 L31.4,307 L37.7,301.7 L49.3,318 Z" fill="#f08068"/>
<path d="M373.1,370.8 L393,349.4 L398.2,355 L406.9,341.9 L431.2,370.8 Z" fill="#f08068"/>
<path d="M243,431.9 L261.7,410.5 L269.2,421.8 L273.7,416.9 L286.9,431.9 Z" fill="#f08068"/>
<path d="M44.9,409.0 L27.5,422.1 L44.9,435.2 Z" fill="#f08068"/>
<path d="M44.9,435.2 L27.5,448.3 L44.9,461.4 Z" fill="#f08068"/>
<path d="M44.9,461.4 L27.5,474.5 L44.9,487.6 Z" fill="#f08068"/>
<path d="M44.9,487.6 L27.5,500.7 L44.9,513.8 Z" fill="#f08068"/>
<path d="M17.2,371.0 A13,13 0 0 0 17.2,397.0 Z" fill="#f9b918"/>
<path d="M17.2,397.0 A13,13 0 0 0 17.2,423.0 Z" fill="#f9b918"/>
<path d="M17.2,423.0 A13,13 0 0 0 17.2,449.0 Z" fill="#f9b918"/>
<path d="M17.2,449.0 A13,13 0 0 0 17.2,475.0 Z" fill="#f9b918"/>
<path d="M430.5,30.0 A12.75,12.75 0 0 0 430.5,55.5 Z" fill="#4cbab2"/>
<path d="M430.5,55.5 A12.75,12.75 0 0 0 430.5,81.0 Z" fill="#4cbab2"/>
<path d="M430.5,81.0 A12.75,12.75 0 0 0 430.5,106.5 Z" fill="#4cbab2"/>
<path d="M430.5,106.5 A12.75,12.75 0 0 0 430.5,132.0 Z" fill="#4cbab2"/>
<path d="M272.9,96.2 L304,103 M257.3,128.9 L304,123.1" stroke="#4cbab2" stroke-width="1.4" fill="none"/>
<circle cx="257.3" cy="93.5" r="16.3" fill="#ee8a74"/>
<path d="M258.4,93.8 L258.3,94.0 L258.3,94.2 L258.2,94.4 L258.1,94.7 L257.9,94.9 L257.7,95.0 L257.4,95.2 L257.1,95.3 L256.8,95.3 L256.4,95.3 L256.0,95.3 L255.7,95.2 L255.3,95.0 L255.0,94.7 L254.7,94.4 L254.4,94.1 L254.2,93.7 L254.1,93.2 L254.0,92.7 L254.0,92.2 L254.1,91.7 L254.2,91.2 L254.5,90.7 L254.8,90.2 L255.2,89.8 L255.7,89.4 L256.2,89.1 L256.8,88.9 L257.5,88.7 L258.1,88.7 L258.8,88.8 L259.5,88.9 L260.2,89.2 L260.8,89.6 L261.4,90.1 L261.9,90.7 L262.3,91.3 L262.6,92.0 L262.9,92.8 L263.0,93.7 L263.0,94.5 L262.8,95.4 L262.5,96.2 L262.1,97.0 L261.6,97.7 L260.9,98.4 L260.2,99.0 L259.4,99.5 L258.4,99.8 L257.5,100.0 L256.5,100.1 L255.4,100.0 L254.4,99.7 L253.4,99.3 L252.5,98.8 L251.6,98.1 L250.9,97.3 L250.3,96.4 L249.8,95.3 L249.4,94.2 L249.3,93.1 L249.3,91.9 L249.4,90.7 L249.8,89.5 L250.3,88.4 L251.0,87.3 L251.9,86.4 L252.9,85.6 L254.0,84.9 L255.2,84.4 L256.5,84.1 L257.9,83.9 L259.2,84.0 L260.6,84.3 L261.9,84.8 L263.2,85.4 L264.3,86.3 L265.3,87.3 L266.2,88.5 L266.9,89.8 L267.4,91.2 L267.7,92.7 L267.8,94.3 L267.6,95.8 L267.2,97.3 L266.6,98.8 L265.8,100.2 L264.7,101.4 L263.5,102.5 L262.1,103.4" fill="none" stroke="#fce3cf" stroke-width="2" stroke-linecap="round"/>
<circle cx="233.4" cy="132.7" r="23.9" fill="#f9b918"/>
<path d="M234.8,132.6 L234.9,132.9 L234.9,133.3 L234.9,133.6 L234.7,133.9 L234.5,134.3 L234.3,134.6 L233.9,134.9 L233.5,135.1 L233.1,135.3 L232.5,135.3 L232.0,135.3 L231.5,135.2 L230.9,135.0 L230.4,134.7 L229.9,134.3 L229.4,133.8 L229.1,133.2 L228.8,132.6 L228.6,131.8 L228.5,131.1 L228.6,130.3 L228.8,129.5 L229.2,128.7 L229.6,127.9 L230.2,127.3 L230.9,126.7 L231.8,126.2 L232.7,125.9 L233.7,125.6 L234.7,125.6 L235.8,125.7 L236.8,126.0 L237.8,126.4 L238.8,127.1 L239.6,127.9 L240.4,128.8 L241.0,129.8 L241.4,131.0 L241.7,132.3 L241.8,133.6 L241.6,134.9 L241.3,136.2 L240.7,137.4 L240.0,138.6 L239.0,139.7 L237.9,140.6 L236.6,141.4 L235.2,141.9 L233.7,142.2 L232.1,142.3 L230.5,142.2 L229.0,141.8 L227.5,141.2 L226.0,140.3 L224.8,139.2 L223.6,137.8 L222.7,136.3 L222.1,134.7 L221.6,132.9 L221.5,131.1 L221.6,129.3 L222.0,127.4 L222.8,125.7 L223.8,124.0 L225.0,122.5 L226.5,121.2 L228.2,120.1 L230.1,119.3 L232.1,118.7 L234.2,118.5 L236.3,118.6 L238.4,119.1 L240.4,119.8 L242.3,120.9 L244.1,122.3 L245.6,123.9 L246.9,125.8 L247.9,127.9 L248.5,130.2 L248.9,132.5 L248.8,134.9 L248.4,137.3 L247.6,139.6 L246.4,141.8 L244.9,143.8 L243.1,145.5 L241.0,147.0 L238.7,148.2 L236.2,149.0 L233.6,149.4" fill="none" stroke="#fff09a" stroke-width="2.5" stroke-linecap="round"/>
<circle cx="233" cy="485" r="23.3" fill="#4cbab2"/>
<path d="M234.1,486.7 L233.8,487.0 L233.5,487.3 L233.1,487.6 L232.6,487.7 L232.0,487.8 L231.4,487.7 L230.9,487.5 L230.3,487.2 L229.8,486.8 L229.3,486.2 L229.0,485.6 L228.7,484.8 L228.6,484.0 L228.7,483.2 L229.0,482.3 L229.4,481.5 L229.9,480.8 L230.7,480.1 L231.5,479.6 L232.5,479.2 L233.6,479.1 L234.7,479.1 L235.8,479.3 L236.9,479.8 L237.9,480.4 L238.8,481.3 L239.6,482.4 L240.1,483.5 L240.5,484.9 L240.6,486.2 L240.4,487.6 L240.0,489.0 L239.3,490.3 L238.3,491.5 L237.1,492.6 L235.8,493.4 L234.2,493.9 L232.6,494.2 L230.9,494.1 L229.2,493.8 L227.6,493.1 L226.1,492.1 L224.8,490.9 L223.7,489.4 L222.8,487.7 L222.3,485.8 L222.2,483.8 L222.4,481.9 L223.0,479.9 L223.9,478.1 L225.2,476.4 L226.8,475.0 L228.6,473.8 L230.7,473.0 L232.8,472.6 L235.1,472.6 L237.4,473.0 L239.6,473.8 L241.6,475.1 L243.4,476.7 L244.9,478.6 L246.0,480.8 L246.8,483.2 L247.1,485.7 L246.9,488.3 L246.2,490.8 L245.1,493.2 L243.6,495.4 L241.6,497.3 L239.4,498.8 L236.8,499.9 L234.1,500.6 L231.2,500.7 L228.4,500.3 L225.6,499.4 L223.0,497.9 L220.7,496.0 L218.7,493.7 L217.2,491.1 L216.2,488.2 L215.7,485.1 L215.8,481.9 L216.4,478.8 L217.7,475.8 L219.4,473.1 L221.7,470.7 L224.4,468.7 L227.4,467.2 L230.7,466.3 L234.1,466.0" fill="none" stroke="#e8f7f6" stroke-width="2.2" stroke-linecap="round"/>
<circle cx="270.7" cy="505" r="10" fill="#f9b918"/>
<path d="M301,3 H350.4 C350,9 343,13 325.7,13 C308.5,13 301.5,9 301,3 Z" fill="#f9b918"/>
<path d="M325.6,8 V23 M317,9 L305.2,14.4 M334.5,9 L346.2,14.4" stroke="#f9b918" stroke-width="6" stroke-linecap="round" fill="none"/>
<path d="M103.3,4 L117.8,4 Q119.6,38 115.9,90.5 L103.3,92.3 Q100.5,50 103.3,4 Z" fill="#f08068"/>
<path d="M102.7,18.8 C88,19 78,30 77.6,47.7 C78,62 90,68 102.1,69.1 M78.8,42.1 L102.1,40.5" fill="none" stroke="#f08068" stroke-width="2.4"/>
<path d="M70.5,45.9 H76" stroke="#1f2f6b" stroke-width="3" stroke-linecap="round"/>
<circle cx="120.6" cy="15.7" r="7.8" fill="#1f2f6b"/><circle cx="120.6" cy="15.7" r="3" fill="#f08068"/>
<circle cx="118.4" cy="68.8" r="7.8" fill="#1f2f6b"/><circle cx="118.4" cy="68.8" r="3" fill="#f08068"/>
<path d="M291.5,150.7 C282,151 276,154 274.5,159 C272.5,166 273,180 275.8,190.3 C277,205 277,218 279,226.7 C283,230 288,231 291.5,231.7 Z" fill="#4cbab2"/>
<path d="M258.2,190.2 A6.3,6.3 0 0 0 258.2,202.8 Z" fill="#ee8a74"/>
<path d="M273.3,169.5 C262,176 258,186 258.6,194 C259,206 268,216 277.7,221 M258.8,197.2 L276.4,197.8" fill="none" stroke="#4cbab2" stroke-width="2.4"/>
<circle cx="291.8" cy="173.9" r="8.2" fill="#ee8a74"/><circle cx="291.8" cy="173.9" r="3.6" fill="#4cbab2"/>
<circle cx="291.8" cy="214.1" r="8.2" fill="#ee8a74"/><circle cx="291.8" cy="214.1" r="3.6" fill="#4cbab2"/>
<path d="M10.9,220.8 Q60,217 107.8,218.1 L110.9,230.9 Q60,234 12.5,232.5 Z" fill="#f9b918"/>
<path d="M37.5,233 C38,248 48,257 65.6,258.3 C80,257 87,246 87.5,233 M58.6,233.3 L61.7,257.5" fill="none" stroke="#f9b918" stroke-width="2.6"/>
<path d="M65.6,259.5 V265" stroke="#2b3440" stroke-width="3" stroke-linecap="round"/>
<circle cx="33.1" cy="216.6" r="7.8" fill="#2e3c42"/><circle cx="33.1" cy="216.6" r="3.4" fill="#f9b918"/>
<circle cx="86.7" cy="216.1" r="7.8" fill="#2e3c42"/><circle cx="86.7" cy="216.1" r="3.4" fill="#f9b918"/>
<path d="M184.4,320 L265.6,320 C265.5,328 261,333 254,334.5 Q225,337.5 200,336.3 C190,334 185,328 184.4,320 Z" fill="#f9b918"/>
<path d="M223.8,352.5 A7.5,7.5 0 0 0 238.8,352.5 Z" fill="#f0806a"/>
<path d="M204.4,336 C207,346 214,351 225,352 C240,352 251,346 255.5,334 M231.9,336.3 V351" fill="none" stroke="#f9b918" stroke-width="2.6"/>
<circle cx="208.1" cy="318.8" r="8.1" fill="#f08a62"/><circle cx="208.1" cy="318.8" r="3.8" fill="#f9b918"/>
<circle cx="248.8" cy="318.8" r="8.1" fill="#f08a62"/><circle cx="248.8" cy="318.8" r="3.8" fill="#f9b918"/>
<path d="M85.9,317.2 L98.4,319.5 Q100,369 96.7,415 L83.6,413.8 Q81.5,369 85.9,317.2 Z" fill="#3c4f63"/>
<path d="M51,361.4 L57.3,362.5" stroke="#4dbdb5" stroke-width="2.6" stroke-linecap="round"/>
<path d="M83.6,341 C68,342 58,350 57.3,362 C57.5,378 68,389 83.6,392.4 M58.5,366.1 L83.6,368.5" fill="none" stroke="#3c4f63" stroke-width="2.4"/>
<circle cx="100.3" cy="340.6" r="7.6" fill="#4dbdb5"/><circle cx="100.3" cy="340.6" r="3.1" fill="#3c4f63"/>
<circle cx="99.8" cy="393.6" r="7.6" fill="#4dbdb5"/><circle cx="99.8" cy="393.6" r="3.1" fill="#3c4f63"/>
</g></g>
<text x="625" y="157.5" textLength="82.5" lengthAdjust="spacingAndGlyphs" font-family="Liberation Sans, sans-serif" font-weight="bold" font-size="23.5" fill="#222222">Side A:</text>
<text x="585.6" y="200.6" textLength="168.8" lengthAdjust="spacingAndGlyphs" font-family="Liberation Sans, sans-serif" font-weight="bold" font-size="23.5" fill="#222222">The race track</text>
<text x="93.1" y="634.2" textLength="80" lengthAdjust="spacingAndGlyphs" font-family="Liberation Sans, sans-serif" font-weight="bold" font-size="23.5" fill="#222222">Side B:</text>
<text x="71.4" y="675.5" textLength="130.5" lengthAdjust="spacingAndGlyphs" font-family="Liberation Sans, sans-serif" font-weight="bold" font-size="23.5" fill="#222222">Dreamland</text>
<path d="M519,173.4 H576.5" stroke="#7b7b7b" stroke-width="3.3" fill="none"/>
<path d="M501.9,173.4 Q515,169.5 524.4,162.5 Q519.5,169 520,173.4 Q519.5,178 524.4,184.4 Q515,177.5 501.9,173.4 Z" fill="#7b7b7b"/>
<path d="M226.2,647 H284" stroke="#7b7b7b" stroke-width="3.3" fill="none"/>
<path d="M300.5,647 Q287.5,643 278.7,636.5 Q283.3,643 282.8,647 Q283.3,651.5 278.7,657.8 Q287.5,651 300.5,647 Z" fill="#7b7b7b"/>
</svg>
</body></html>
